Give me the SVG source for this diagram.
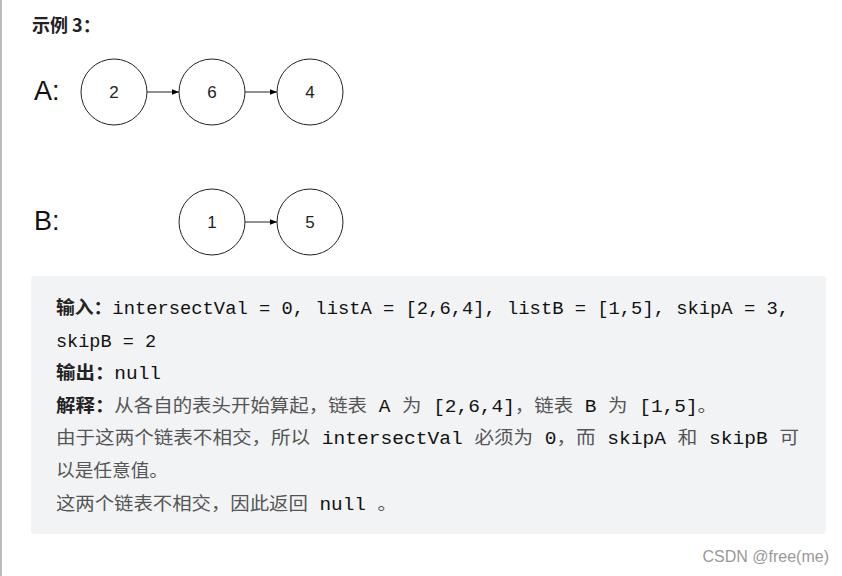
<svg xmlns="http://www.w3.org/2000/svg" width="842" height="576" viewBox="0 0 842 576">
<defs>
<marker id="ah" viewBox="0 0 10 10" refX="10" refY="5" markerWidth="7" markerHeight="7" orient="auto"><path d="M0,1 L10,5 L0,9 z" fill="#000"/></marker>
<style>
.c{fill:#fff;stroke:#222;stroke-width:1}
.n{font-family:"Liberation Sans",Arial,sans-serif;font-size:17px;fill:#222;text-anchor:middle}
.lbl{font-family:"Liberation Sans",Arial,sans-serif;font-size:27px;fill:#111}
.t{font-family:"Liberation Mono","Noto Sans CJK SC",monospace;font-size:18px;fill:#111}
.b{font-family:"Noto Sans CJK SC",sans-serif;font-weight:bold;fill:#222}
.g{font-family:"Noto Sans CJK SC",sans-serif;fill:#555}
</style>
</defs>
<rect width="842" height="576" fill="#fff"/>
<line x1="1" y1="0" x2="1" y2="576" stroke="#bbb" stroke-width="2"/>
<text x="32" y="32" font-family="'Noto Sans CJK SC',sans-serif" font-size="18" font-weight="bold" fill="#222">示例 3：</text>
<text class="lbl" x="34" y="100">A:</text>
<text class="lbl" x="34" y="230">B:</text>
<g id="connectors" stroke="#222" stroke-width="1" marker-end="url(#ah)">
<line x1="147" y1="92" x2="179" y2="92"/>
<line x1="245" y1="92" x2="277" y2="92"/>
<line x1="245" y1="222" x2="277" y2="222"/>
</g>
<g id="a2"><circle class="c" cx="114" cy="92" r="33"/><text class="n" x="114" y="98">2</text></g>
<g id="a6"><circle class="c" cx="212" cy="92" r="33"/><text class="n" x="212" y="98">6</text></g>
<g id="a4"><circle class="c" cx="310" cy="92" r="33"/><text class="n" x="310" y="98">4</text></g>
<g id="b1"><circle class="c" cx="212" cy="222" r="33"/><text class="n" x="212" y="228">1</text></g>
<g id="b5"><circle class="c" cx="310" cy="222" r="33"/><text class="n" x="310" y="228">5</text></g>
<rect x="31" y="276" width="795" height="258" rx="4" fill="#f2f3f5"/>
<text class="t" x="56" y="314" textLength="733" lengthAdjust="spacingAndGlyphs"><tspan class="b">输入：</tspan>intersectVal = 0, listA = [2,6,4], listB = [1,5], skipA = 3,</text>
<text class="t" x="56" y="347" textLength="100" lengthAdjust="spacingAndGlyphs">skipB = 2</text>
<text class="t" x="56" y="379" textLength="105" lengthAdjust="spacingAndGlyphs"><tspan class="b">输出：</tspan>null</text>
<text class="t" x="56" y="412" textLength="661" lengthAdjust="spacingAndGlyphs"><tspan class="b">解释：</tspan><tspan class="g">从各自的表头开始算起，链表</tspan> A <tspan class="g">为</tspan> [2,6,4]<tspan class="g">，链表</tspan> B <tspan class="g">为</tspan> [1,5]<tspan class="g">。</tspan></text>
<text class="t" x="56" y="444" textLength="743" lengthAdjust="spacingAndGlyphs"><tspan class="g">由于这两个链表不相交，所以</tspan> intersectVal <tspan class="g">必须为</tspan> 0<tspan class="g">，而</tspan> skipA <tspan class="g">和</tspan> skipB <tspan class="g">可</tspan></text>
<text class="t" x="56" y="477" textLength="112" lengthAdjust="spacingAndGlyphs"><tspan class="g">以是任意值。</tspan></text>
<text class="t" x="56" y="510" textLength="341" lengthAdjust="spacingAndGlyphs"><tspan class="g">这两个链表不相交，因此返回</tspan> null <tspan class="g">。</tspan></text>
<text x="829" y="562" text-anchor="end" font-family="'Liberation Sans',Arial,sans-serif" font-size="16" fill="#999">CSDN @free(me)</text>
</svg>
